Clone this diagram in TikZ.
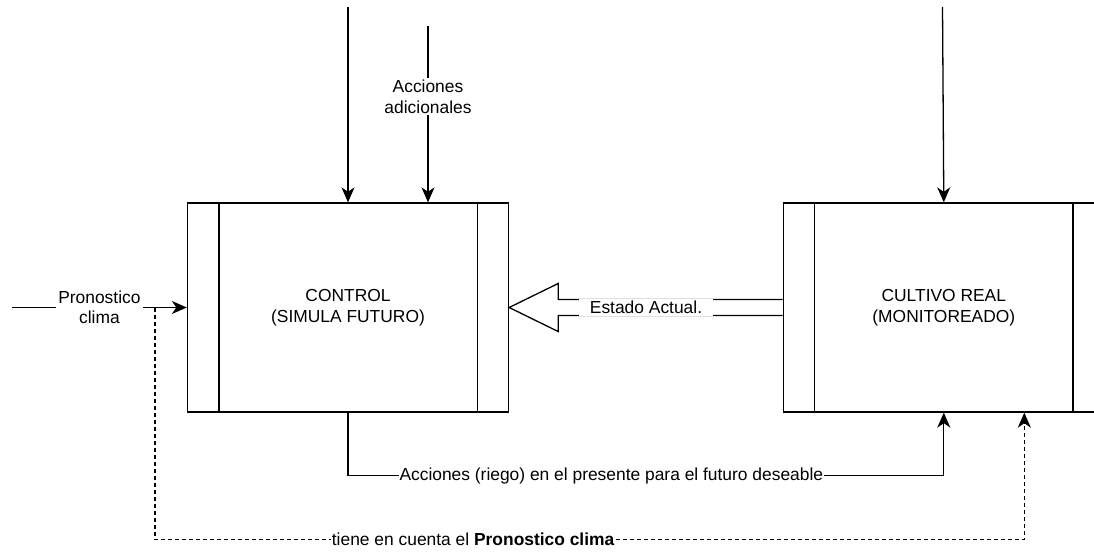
\documentclass[tikz,border=0pt]{standalone}
\usepackage{fontspec}
\setmainfont{Liberation Sans}
\usepackage{xcolor}
\usepackage{tikz}
\usetikzlibrary{arrows.meta,positioning,calc}

\begin{document}
\begin{tikzpicture}[x=1pt, y=-1pt,
every node/.style={font=\fontsize{17.4}{20.5}\selectfont},
process/.style={draw, line width=1.3pt, minimum width=321pt, minimum height=209pt, inner sep=0pt, align=center},
rel/.style={-{Stealth[length=15pt,width=13pt,inset=4.5pt]}, line width=1.3pt},
lbl/.style={fill=white, inner sep=2pt, align=center},
blockarrow/.style={draw, line width=1.3pt, line join=miter}
]
\useasboundingbox (0,0) rectangle (1094,552);
\node[process] (ctrl) at (348,307.5) {CONTROL\\(SIMULA FUTURO)};
\node[process, right=273.5pt of ctrl] (real) {CULTIVO REAL\\(MONITOREADO)};
\foreach \b in {ctrl,real} {
  \draw[line width=1.3pt] ([xshift=32pt]\b.north west) -- ([xshift=32pt]\b.south west);
  \draw[line width=1.3pt] ([xshift=-32pt]\b.north east) -- ([xshift=-32pt]\b.south east);
}
\coordinate (topA) at (348,7);
\coordinate (topB) at (428,26);
\coordinate (topC) at (942.5,7);
\coordinate (inL) at (12,307.5);
\coordinate (tap) at (155,307.5);
% entradas desde arriba
\draw[rel] (topA) -- (ctrl.north);
\draw[rel] (topB) -- node[lbl, pos=0.4]{Acciones\\adicionales} (topB |- ctrl.north);
\draw[rel] (topC) -- (real.north);
% pronostico
\draw[rel] (inL) -- node[lbl]{Pronostico\\clima} (ctrl.west);
% estado actual
\draw[blockarrow] ([yshift=8pt]real.west) -- ([xshift=49pt,yshift=8pt]ctrl.east) -- ([xshift=49pt,yshift=24pt]ctrl.east) -- (ctrl.east) -- ([xshift=49pt,yshift=-24pt]ctrl.east) -- ([xshift=49pt,yshift=-8pt]ctrl.east) -- ([yshift=-8pt]real.west);
\node[lbl, inner xsep=11pt] (estado) at (646,307.5) {Estado Actual.};
% acciones hacia el cultivo
\draw[rel] (ctrl.south) -- ++(0,63) -| node[lbl, pos=0.221, inner sep=1pt]{Acciones (riego) en el presente para el futuro deseable} (real.south);
\draw[rel, dash pattern=on 4pt off 3pt] (tap) -- ++(0,232) -| node[lbl, pos=0.183, inner sep=1pt]{tiene en cuenta el \textbf{Pronostico clima}} ([xshift=80.5pt]real.south);
\end{tikzpicture}
\end{document}
